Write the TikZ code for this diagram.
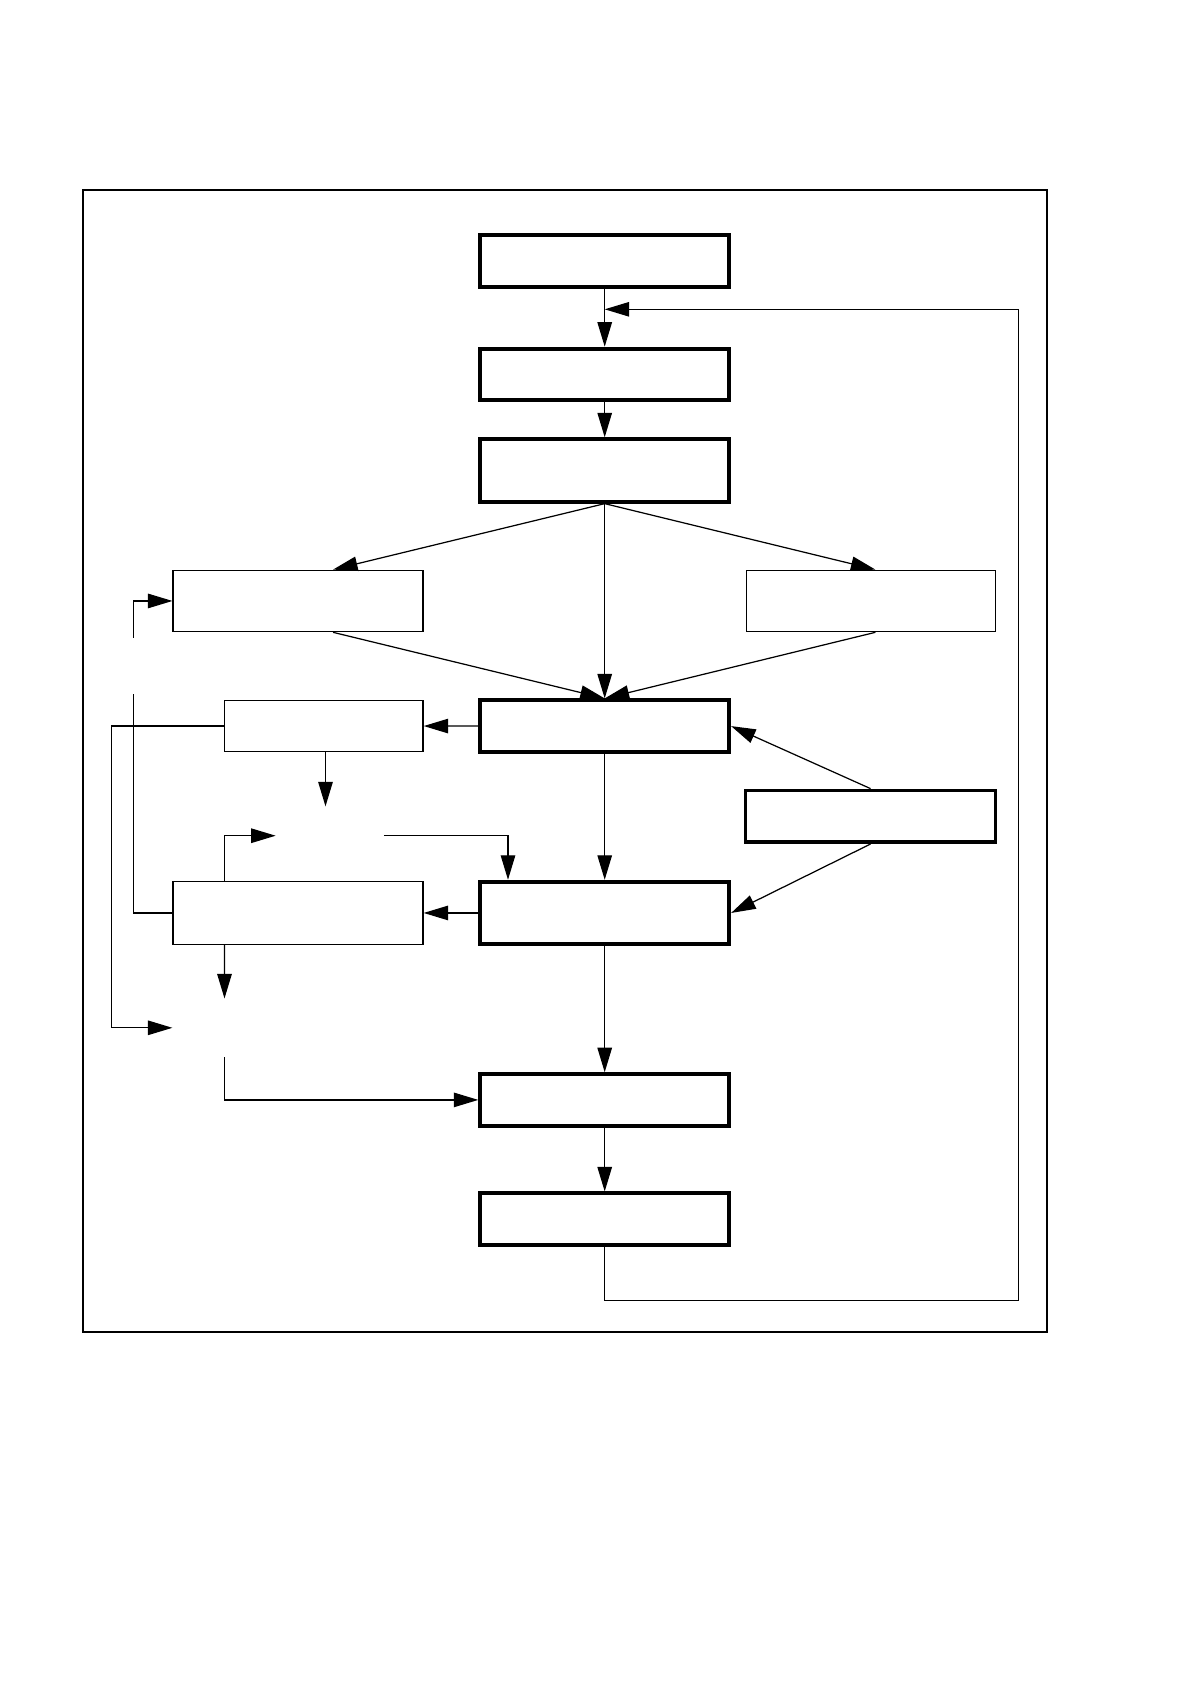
\documentclass[tikz,border=0pt]{standalone}
\usetikzlibrary{arrows.meta}
\tikzset{
  box/.style={draw, line width=0.7pt, minimum width=5mm, minimum height=10.3mm,
              inner sep=0pt},
  boldbox/.style={box, line width=2.2pt},
  ghost/.style={inner sep=0pt, minimum width=1mm},
  link/.style={line width=0.7pt, -{Triangle[length=4.9mm,width=2.9mm]}},
  wire/.style={line width=0.7pt},
}

\begin{document}
\begin{tikzpicture}
    \useasboundingbox (0,0) rectangle (23.76,-33.68);
    \draw[line width=1pt] (1.654,-3.802) rectangle (20.946,-26.638);
    % main column
    \node[boldbox, minimum width=49.8mm] (b1) at (12.094, -5.220) {};
    \node[boldbox, minimum width=49.8mm] (b2) at (12.094, -7.487) {};
    \node[boldbox, minimum width=49.8mm, minimum height=12.5mm] (b3) at (12.094, -9.409) {};
    \node[boldbox, minimum width=49.8mm] (b4) at (12.094, -14.522) {};
    \node[boldbox, minimum width=49.8mm, minimum height=12.5mm] (b5) at (12.094, -18.259) {};
    \node[boldbox, minimum width=49.8mm] (b6) at (12.094, -21.998) {};
    \node[boldbox, minimum width=49.8mm] (b7) at (12.094, -24.382) {};
    % side boxes
    \node[box, minimum width=50mm, minimum height=12.3mm] (l1) at (5.961, -12.019) {};
    \node[box, minimum width=49.8mm, minimum height=12.3mm] (r1) at (17.422, -12.019) {};
    \node[box, minimum width=39.7mm] (sm) at (6.477, -14.520) {};
    \node[boldbox, minimum width=50mm] (r2) at (17.411, -16.326) {};
    \node[box, minimum width=50mm, minimum height=12.5mm] (l2) at (5.961, -18.259) {};
    % empty places
    \node[ghost, minimum width=21.5mm, minimum height=11.6mm] (g1) at (6.595, -16.714) {};
    \node[ghost, minimum width=20.7mm, minimum height=11.6mm] (g2) at (4.490, -20.556) {};
    \node[ghost, minimum height=11.2mm] (g3) at (2.664, -13.319) {};
    \coordinate (fb) at (12.094, -6.186);

    \draw[link] (b1) -- (b2);
    \draw[link] (b2) -- (b3);
    \draw[link] (b3.south) -- ([xshift=7mm]l1.north);
    \draw[link] (b3.south) -- ([xshift=0.86mm]r1.north);
    \draw[link] (b3) -- (b4);
    \draw[link] ([xshift=7mm]l1.south) -- (b4.north);
    \draw[link] ([xshift=0.86mm]r1.south) -- (b4.north);
    \draw[link] (b4) -- (sm);
    \draw[link] (r2.north) -- (b4.east);
    \draw[link] (r2.south) -- (b5.east);
    \draw[link] (b4) -- (b5);
    \draw[link] (b5) -- (l2);
    \draw[link] (b5) -- (b6);
    \draw[link] (b6) -- (b7);
    \draw[link] (b7.south) |- (20.364,-26.014) |- (fb);
    \draw[link] ([xshift=0.33mm]sm.south) -- ([xshift=0.33mm]sm.south |- g1.north);
    \draw[link] ([xshift=-14.71mm]l2.north) |- (g1.west);
    \draw[link] (g1.east) -| ([xshift=-19.34mm]b5.north);
    \draw[link] ([xshift=-14.71mm]l2.south) -- (g2.north);
    \draw[link] (g2.south) |- (b6.west);
    \draw[link] (sm.west) -- ++(-2.256,0) |- (g2.west);
    \draw[wire] (l2.west) -| (g3.south);
    \draw[link] (g3.north) |- (l1.west);
  \end{tikzpicture}
\end{document}
